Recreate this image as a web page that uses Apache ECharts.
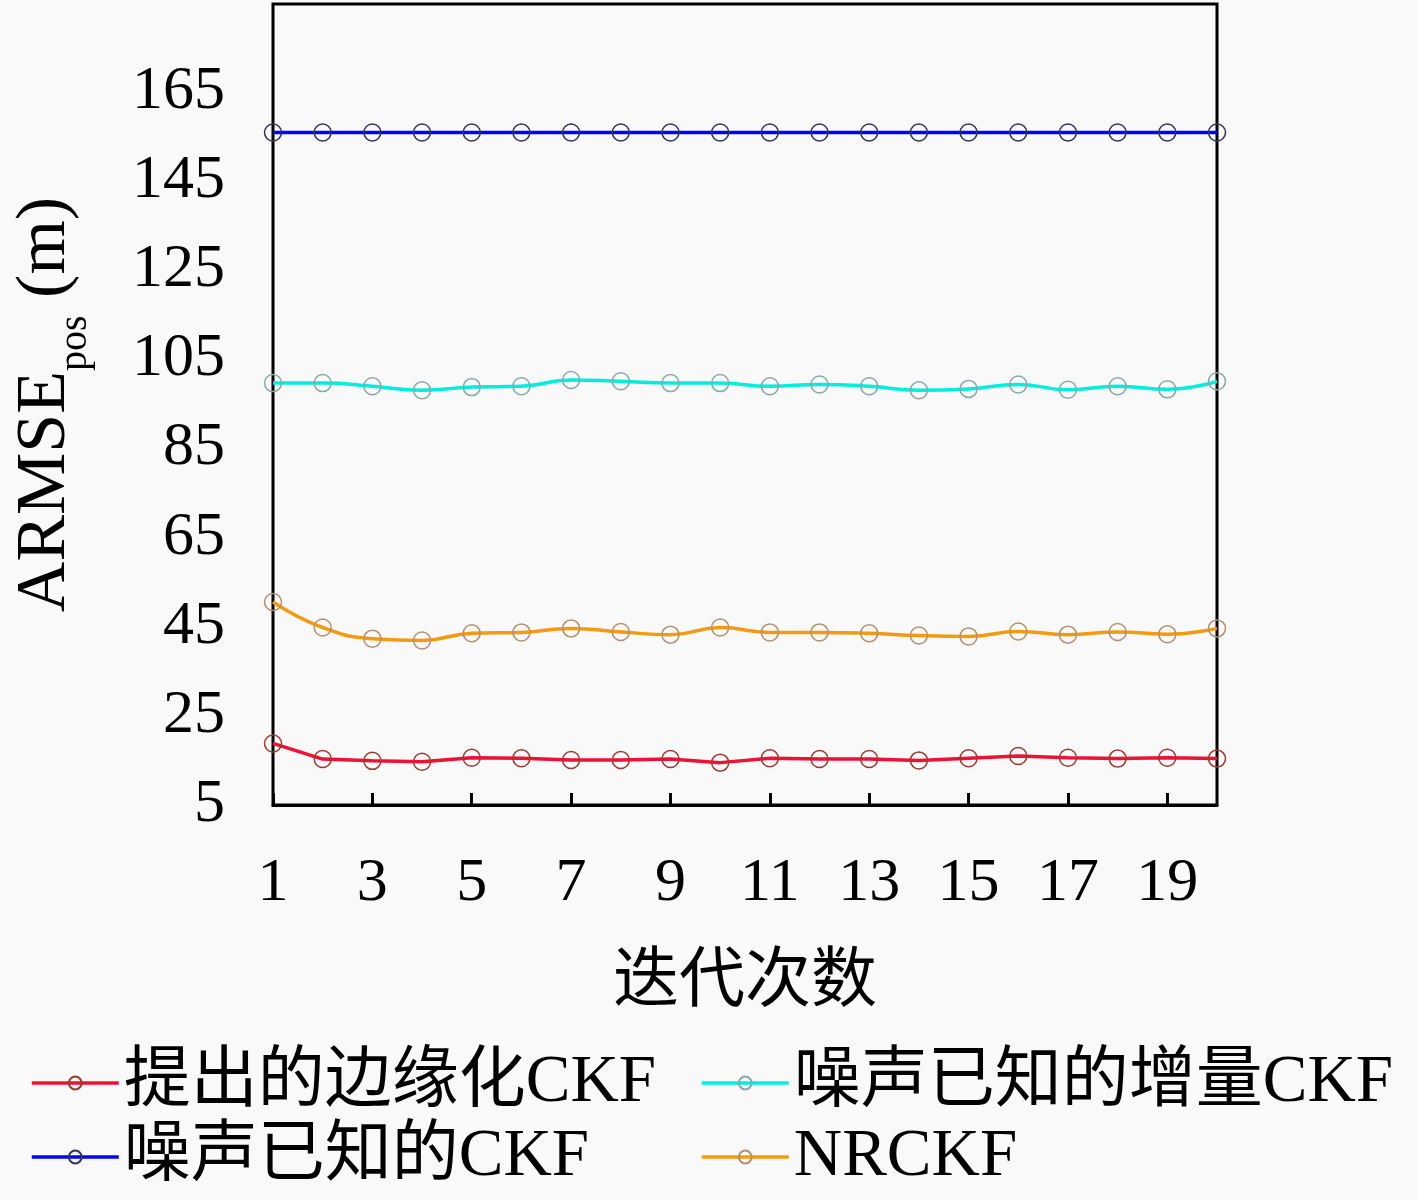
<!doctype html>
<html lang="zh">
<head>
    <meta charset="UTF-8">
    <script src="https://cdn.jsdelivr.net/npm/echarts@6/dist/echarts.min.js"></script>
    <title>ARMSE</title>
    <style>
        html, body { margin: 0; padding: 0; background: #f9f9f9; }
    </style>
</head>
<body>
<div id="main" style="width: 1417px;height:1200px;"></div>
<script type="text/javascript">
    // 迭代次数
    var iterations = ['1','2','3','4','5','6','7','8','9','10','11','12','13','14','15','16','17','18','19','20'];

    // 各算法的 ARMSE_pos (m)
    var proposedCKF = [18.8, 15.3, 14.9, 14.7, 15.6, 15.5, 15.1, 15.1, 15.3, 14.5, 15.5, 15.3, 15.3, 15.0, 15.5, 16.0, 15.6, 15.4, 15.6, 15.4];
    var knownCKF = [155.8, 155.8, 155.8, 155.8, 155.8, 155.8, 155.8, 155.8, 155.8, 155.8, 155.8, 155.8, 155.8, 155.8, 155.8, 155.8, 155.8, 155.8, 155.8, 155.8];
    var knownIncCKF = [99.6, 99.6, 98.9, 98.0, 98.7, 98.9, 100.3, 100.0, 99.6, 99.6, 98.9, 99.3, 98.9, 98.0, 98.3, 99.3, 98.1, 98.9, 98.2, 100.0];
    var nrckf = [50.5, 44.8, 42.3, 41.9, 43.5, 43.7, 44.6, 43.8, 43.2, 44.8, 43.7, 43.7, 43.5, 43.0, 42.8, 43.9, 43.2, 43.8, 43.3, 44.6];

    var names = ['提出的边缘化CKF', '噪声已知的增量CKF', '噪声已知的CKF', 'NRCKF'];

    var serifFont = '"Liberation Serif", "Noto Sans CJK SC", serif';

    var myChart = echarts.init(document.getElementById('main'));

    function makeSeries(name, data, color, markerColor, smooth) {
        return {
            name: name,
            type: 'line',
            data: data,
            smooth: smooth,
            symbol: 'circle',
            symbolSize: 17,
            lineStyle: { color: color, width: 3.5 },
            itemStyle: { color: 'rgba(0,0,0,0)', borderColor: markerColor, borderWidth: 1.5 },
            emphasis: { disabled: true }
        };
    }

    var legendText = { fontFamily: serifFont, fontSize: 67, lineHeight: 74, color: '#000' };

    var option = {
        backgroundColor: '#f9f9f9',
        animation: false,
        grid: {
            left: 273, right: 200, top: 4, bottom: 395,
            outerBoundsMode: 'none',
            show: true, borderColor: '#000', borderWidth: 3,
            backgroundColor: 'transparent'
        },
        legend: [{
            orient: 'vertical',
            left: 30, top: 1046, padding: 0,
            itemWidth: 87, itemHeight: 16, itemGap: 0,
            lineStyle: { width: 3.5 },
            data: [names[0], names[2]],
            textStyle: legendText
        }, {
            orient: 'vertical',
            left: 700, top: 1046, padding: 0,
            itemWidth: 87, itemHeight: 16, itemGap: 0,
            lineStyle: { width: 3.5 },
            data: [names[1], names[3]],
            textStyle: legendText
        }],
        xAxis: {
            type: 'category',
            data: iterations,
            boundaryGap: false,
            name: '迭代次数',
            nameLocation: 'middle',
            nameGap: 146,
            nameTextStyle: { fontFamily: serifFont, fontSize: 66, color: '#000' },
            axisLine: { lineStyle: { color: '#000', width: 3 } },
            axisTick: { inside: true, length: 12, interval: 1, alignWithLabel: true, lineStyle: { color: '#000', width: 3 } },
            axisLabel: { interval: 1, margin: 48, fontFamily: serifFont, fontSize: 62, color: '#000' },
            splitLine: { show: false }
        },
        yAxis: {
            type: 'value',
            min: 5,
            max: 184.6,
            interval: 20,
            name: '{a|ARMSE}{b|pos}{a| (m)}',
            nameLocation: 'middle',
            nameRotate: 90,
            nameGap: 192,
            nameTextStyle: {
                rich: {
                    a: { fontFamily: serifFont, fontSize: 70, color: '#000', lineHeight: 80, verticalAlign: 'bottom' },
                    b: { fontFamily: serifFont, fontSize: 40, color: '#000', lineHeight: 80, verticalAlign: 'bottom', padding: [0, 0, -14, 0] }
                }
            },
            axisLine: { lineStyle: { color: '#000', width: 3 } },
            axisTick: { inside: true, length: 12, lineStyle: { color: '#000', width: 3 } },
            axisLabel: { margin: 48, fontFamily: serifFont, fontSize: 62, color: '#000', showMaxLabel: false },
            splitLine: { show: false }
        },
        series: [
            makeSeries(names[0], proposedCKF, '#ee1133', '#9a3a30', false),
            makeSeries(names[1], knownIncCKF, '#00eedd', '#8aa8a8', true),
            makeSeries(names[2], knownCKF, '#0000ff', '#333355', false),
            makeSeries(names[3], nrckf, '#f59a10', '#b09070', true)
        ]
    };

    myChart.setOption(option);
</script>
</body>
</html>
